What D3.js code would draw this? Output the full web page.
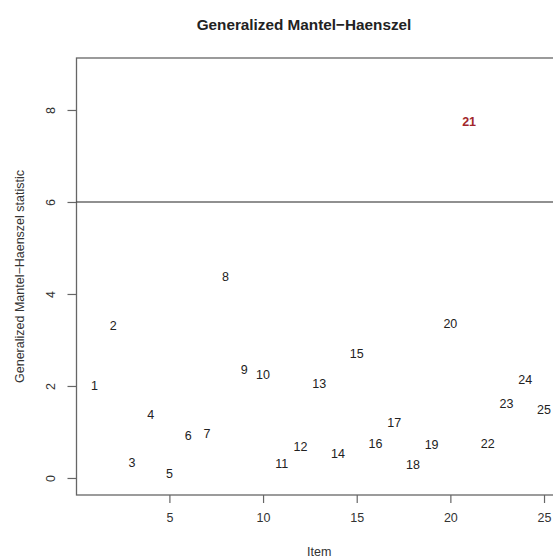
<!DOCTYPE html>
<html>
<head>
<meta charset="utf-8">
<script src="https://cdn.jsdelivr.net/npm/d3@7"></script>
<style>
  body { margin: 0; background: #fff; }
  text { font-family: "Liberation Sans", Arial, sans-serif; }
</style>
</head>
<body>
<svg id="chart" width="553" height="558"></svg>
<script>
// item numbers and their statistic values
const items = [1, 2, 3, 4, 5, 6, 7, 8, 9, 10, 11, 12, 13, 14, 15, 16, 17, 18, 19, 20, 21, 22, 23, 24, 25];
const stats = [2.0, 3.31, 0.34, 1.37, 0.10, 0.93, 0.96, 4.37, 2.35, 2.25, 0.32, 0.68, 2.06, 0.54, 2.70,
               0.75, 1.20, 0.30, 0.72, 3.36, 7.75, 0.74, 1.62, 2.13, 1.48];
const flagged = [21];
const threshold = 6;
const xTicks = [5, 10, 15, 20, 25];
const yTicks = [0, 2, 4, 6, 8];

const svg = d3.select("#chart");
const plotLeft = 76.5, plotRight = 562, plotTop = 58, plotBottom = 495;

// R style 4% padding on both axes
const x = d3.scaleLinear().domain([0.04, 25.96]).range([plotLeft, plotRight]);
const y = d3.scaleLinear().domain([-0.37, 9.13]).range([plotBottom, plotTop]);

const axisColor = "#666";

// plot box (right side runs off the page)
svg.append("rect")
  .attr("x", plotLeft).attr("y", plotTop)
  .attr("width", plotRight - plotLeft).attr("height", plotBottom - plotTop)
  .attr("fill", "none").attr("stroke", axisColor).attr("stroke-width", 1.3);

// x axis
const xAxis = svg.append("g")
  .attr("transform", "translate(0," + plotBottom + ")")
  .call(d3.axisBottom(x).tickValues(xTicks).tickSize(8).tickPadding(10));
xAxis.select(".domain").remove();
xAxis.selectAll("line").attr("stroke", axisColor).attr("stroke-width", 1.2);
xAxis.selectAll("text").attr("font-size", 12.5).attr("fill", "#333")
  .style("font-family", "Liberation Sans, Arial, sans-serif");

// y axis, labels rotated like R
const yAxis = svg.append("g")
  .attr("transform", "translate(" + plotLeft + ",0)")
  .call(d3.axisLeft(y).tickValues(yTicks).tickSize(9).tickFormat(d3.format("d")));
yAxis.select(".domain").remove();
yAxis.selectAll("line").attr("stroke", axisColor).attr("stroke-width", 1.2);
yAxis.selectAll("text").remove();
yAxis.selectAll(".tick").append("text")
  .attr("transform", "translate(-26,0) rotate(-90)")
  .attr("text-anchor", "middle")
  .attr("dy", "0.35em")
  .attr("font-size", 12.5).attr("fill", "#333")
  .text(d => d);

// threshold line
svg.append("line")
  .attr("x1", plotLeft).attr("x2", plotRight)
  .attr("y1", y(threshold)).attr("y2", y(threshold))
  .attr("stroke", "#222").attr("stroke-width", 1.1);

// item labels
svg.selectAll("text.item")
  .data(items)
  .enter()
  .append("text")
  .attr("class", "item")
  .attr("x", d => x(d))
  .attr("y", (d, i) => y(stats[i]))
  .attr("dy", "0.35em")
  .attr("text-anchor", "middle")
  .attr("font-size", 12.5)
  .attr("fill", d => flagged.includes(d) ? "#a2262b" : "#222")
  .attr("font-weight", d => flagged.includes(d) ? "bold" : "normal")
  .text(d => d);

// titles
svg.append("text")
  .attr("x", 304).attr("y", 30)
  .attr("text-anchor", "middle")
  .attr("font-size", 15.3).attr("font-weight", "bold").attr("fill", "#222")
  .text("Generalized Mantel\u2212Haenszel");

svg.append("text")
  .attr("x", (plotLeft + plotRight) / 2).attr("y", 556)
  .attr("text-anchor", "middle")
  .attr("font-size", 12.5).attr("fill", "#333")
  .text("Item");

svg.append("text")
  .attr("transform", "translate(24," + (plotTop + plotBottom) / 2 + ") rotate(-90)")
  .attr("text-anchor", "middle")
  .attr("font-size", 12.5).attr("fill", "#333")
  .text("Generalized Mantel\u2212Haenszel statistic");
</script>
</body>
</html>
